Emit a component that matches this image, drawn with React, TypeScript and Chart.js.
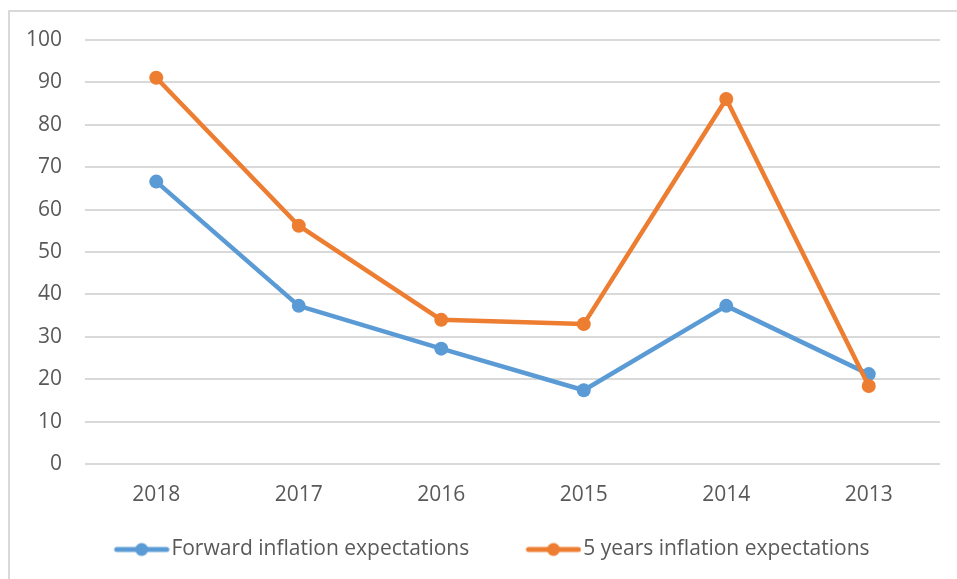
import React, { useEffect, useRef } from "react";
import { Chart, registerables } from "chart.js";

Chart.register(...registerables);

const categories = ["2018", "2017", "2016", "2015", "2014", "2013"];
const forwardExpectations = [66.6, 37.3, 27.2, 17.4, 37.3, 21.2];
const fiveYearExpectations = [91.1, 56.2, 34.0, 33.0, 86.1, 18.4];
const seriesNames = ["Forward inflation expectations", "5 years inflation expectations"];
const seriesColors = ["#5b9bd5", "#ed7d31"];

const FONT = "'Open Sans', 'Noto Sans', sans-serif";
const TEXT = "#595959";
const GRID = "#d9d9d9";

function makeMarker(color: string): HTMLCanvasElement {
  const c = document.createElement("canvas");
  c.width = 92;
  c.height = 16;
  const ctx = c.getContext("2d")!;
  ctx.strokeStyle = color;
  ctx.lineWidth = 5;
  ctx.lineCap = "round";
  ctx.beginPath();
  ctx.moveTo(39, 8);
  ctx.lineTo(89, 8);
  ctx.stroke();
  ctx.fillStyle = color;
  ctx.beginPath();
  ctx.arc(64, 8, 6.5, 0, Math.PI * 2);
  ctx.fill();
  return c;
}

const framePlugin = {
  id: "frame",
  beforeDraw(chart: any) {
    const ctx = chart.ctx;
    ctx.save();
    ctx.fillStyle = "#ffffff";
    ctx.fillRect(0, 0, chart.width, chart.height);
    ctx.fillStyle = GRID;
    ctx.fillRect(8, 10, 2, chart.height);
    ctx.fillRect(8, 10, chart.width, 2);
    ctx.restore();
  },
};

export default function App() {
  const ref = useRef<HTMLCanvasElement>(null);
  useEffect(() => {
    if (!ref.current) return;
    const markers = seriesColors.map(makeMarker);
    const chart = new Chart(ref.current, {
      type: "line",
      data: {
        labels: categories,
        datasets: [
          {
            label: seriesNames[0],
            data: forwardExpectations,
            borderColor: seriesColors[0],
            backgroundColor: seriesColors[0],
            borderWidth: 4.5,
            pointRadius: 7,
            pointBorderWidth: 0,
            pointBackgroundColor: seriesColors[0],
            borderCapStyle: "round",
            borderJoinStyle: "round",
            order: 1,
          },
          {
            label: seriesNames[1],
            data: fiveYearExpectations,
            borderColor: seriesColors[1],
            backgroundColor: seriesColors[1],
            borderWidth: 4.5,
            pointRadius: 7,
            pointBorderWidth: 0,
            pointBackgroundColor: seriesColors[1],
            borderCapStyle: "round",
            borderJoinStyle: "round",
            order: 0,
          },
        ],
      },
      options: {
        animation: false,
        responsive: false,
        devicePixelRatio: 1,
        layout: { padding: { left: 16, right: 17, top: 40, bottom: 9 } },
        scales: {
          x: {
            offset: true,
            grid: { display: false, drawTicks: false },
            border: { display: false },
            ticks: { color: TEXT, font: { family: FONT, size: 21 }, padding: 18, maxRotation: 0, autoSkip: false },
            afterFit(scale: any) {
              scale.height = 46;
            },
          },
          y: {
            min: 0,
            max: 100,
            grid: { color: GRID, lineWidth: 2, drawTicks: false },
            border: { display: false },
            ticks: { stepSize: 10, color: TEXT, font: { family: FONT, size: 21 }, padding: 23 },
            afterFit(scale: any) {
              scale.width = 69;
            },
          },
        },
        plugins: {
          tooltip: { enabled: false },
          legend: {
            position: "bottom",
            labels: {
              color: TEXT,
              font: { family: FONT, size: 21 },
              usePointStyle: true,
              pointStyleWidth: 74.5,
              padding: 29,
              sort: (a: any, b: any) => a.datasetIndex - b.datasetIndex,
              generateLabels(ch: any) {
                const items = (Chart.defaults.plugins.legend.labels as any).generateLabels(ch);
                return items.map((it: any) => ({ ...it, pointStyle: markers[it.datasetIndex] }));
              },
            },
          },
        },
      },
      plugins: [framePlugin],
    } as any);
    return () => chart.destroy();
  }, []);
  return (
    <div style={{ position: "fixed", left: 0, top: 0, width: 957, height: 579 }}>
      <canvas ref={ref} width={957} height={579} style={{ display: "block" }} />
    </div>
  );
}
